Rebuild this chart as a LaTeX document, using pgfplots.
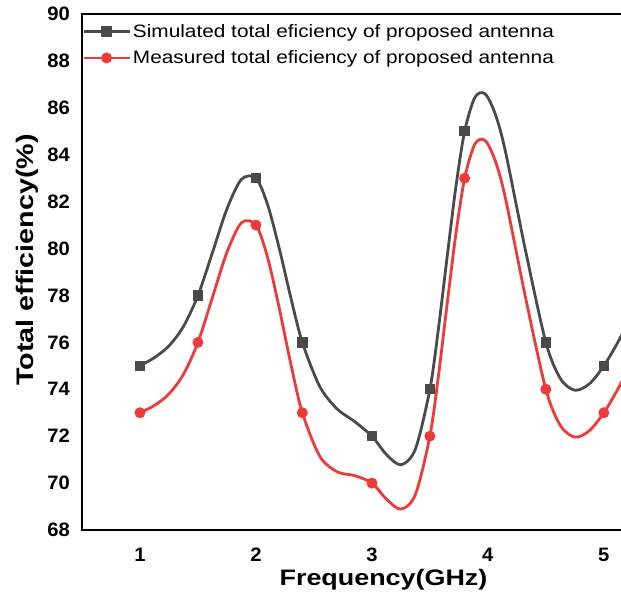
\documentclass[border=0pt]{standalone}
\usepackage{graphicx}
\usepackage{pgfplots}
\pgfplotsset{compat=1.18}
\usepackage{fontspec}
\setmainfont{Liberation Sans}
\newfontfamily\tickfont[FakeStretch=1.04]{Liberation Sans}
\newfontfamily\xlabfont[FakeStretch=1.2]{Liberation Sans}
\newfontfamily\legfont[FakeStretch=1.16]{Liberation Sans}
\definecolor{simgray}{HTML}{4A4A4A}
\definecolor{measred}{HTML}{EE3A3A}
\begin{document}
\begin{tikzpicture}
\begin{axis}[
  scale only axis,
  width=603bp, height=516bp,
  xmin=0.5, xmax=5.7,
  ymin=68, ymax=90,
  xtick={1,2,3,4,5},
  ytick={68,70,...,90},
  major tick length=0pt,
  axis line style={line width=2.8bp, black},
  /pgf/number format/assume math mode=true,
  ticklabel style={font=\tickfont\fontsize{19.5}{21}\selectfont\bfseries, inner sep=0pt},
  xticklabel style={anchor=center, yshift=-25bp},
  yticklabel style={anchor=east, xshift=-12bp},
  xlabel={\xlabfont\fontsize{22.5}{26}\selectfont\bfseries Frequency(GHz)},
  ylabel={\scalebox{1.2}[1]{\fontsize{24}{27}\selectfont\bfseries Total efficiency(\%)}},
  xlabel style={at={(axis description cs:0.5,0)}, anchor=center, yshift=-50bp},
  ylabel style={at={(axis description cs:-0.0912,0.5233)}, anchor=center},
  legend style={at={(0,1)}, anchor=north west, draw=none, fill=none,
    font=\legfont\fontsize{18}{21}\selectfont, row sep=8bp, inner xsep=0pt, inner ysep=8bp,
    cells={anchor=west}},
  legend image code/.code={
    \draw[#1,mark indices={2}] plot coordinates {(0bp,0bp) (23bp,0bp) (46bp,0bp)};
  },
]
\addplot[smooth, color=simgray, line width=2.8bp, mark=square*, mark size=3.8bp,
  mark indices={1,5,9,13,17,21,25,31,35}, mark options={solid, fill=simgray}]
coordinates {
(1,75) (1.125,75.35) (1.25,75.85) (1.375,76.68)
(1.5,78) (1.625,79.83) (1.75,81.69) (1.875,82.95)
(2,83) (2.1,81.88) (2.2,80.03) (2.3,77.92)
(2.4,76) (2.55,74.12) (2.7,73.16) (2.85,72.63)
(3,72) (3.125,71.22) (3.25,70.78) (3.375,71.45)
(3.5,74) (3.575,76.63) (3.65,79.69) (3.725,82.66)
(3.8,85) (3.8875,86.44) (3.975,86.60) (4.0625,85.75) (4.15,84.17) (4.325,79.91)
(4.5,76) (4.625,74.46) (4.75,73.96) (4.875,74.23)
(5,75) (5.125,76.04) (5.25,77.26) (5.375,78.60) (5.5,80)};
\addlegendentry{Simulated total eficiency of proposed antenna}
\addplot[smooth, color=measred, line width=2.8bp, mark=*, mark size=4bp,
  mark indices={1,5,9,13,17,21,25,31,35}, mark options={solid, fill=measred}]
coordinates {
(1,73) (1.125,73.31) (1.25,73.80) (1.375,74.64)
(1.5,76) (1.625,77.92) (1.75,79.84) (1.875,81.10)
(2,81) (2.1,79.63) (2.2,77.48) (2.3,75.10)
(2.4,73) (2.55,71.15) (2.7,70.48) (2.85,70.32)
(3,70) (3.125,69.32) (3.25,68.89) (3.375,69.51)
(3.5,72) (3.575,74.62) (3.65,77.68) (3.725,80.65)
(3.8,83) (3.8875,84.45) (3.975,84.61) (4.0625,83.76) (4.15,82.18) (4.325,77.91)
(4.5,74) (4.625,72.46) (4.75,71.96) (4.875,72.23)
(5,73) (5.125,74.04) (5.25,75.26) (5.375,76.60) (5.5,78)};
\addlegendentry{Measured total eficiency of proposed antenna}
\end{axis}
\pgfresetboundingbox
\path[use as bounding box] (-82bp,-66bp) rectangle (539bp,530bp);
\end{tikzpicture}
\end{document}
